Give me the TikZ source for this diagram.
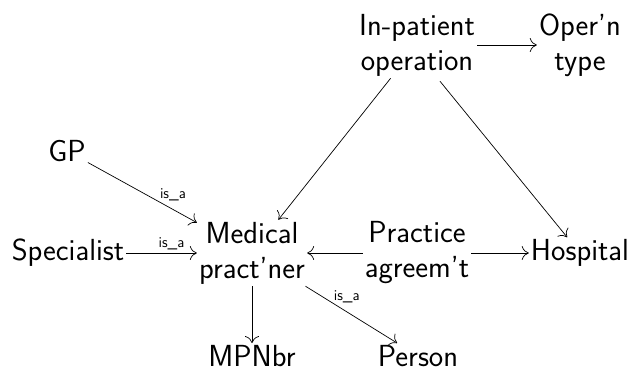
\documentclass[tikz,border=0pt]{standalone}
\usetikzlibrary{arrows.meta,calc}
\begin{document}
\begin{tikzpicture}[x=1pt,y=1pt,
  ent/.style={font=\fontsize{30.5}{35}\selectfont\sffamily, align=center, inner sep=2pt},
  lab/.style={font=\fontsize{15}{17}\selectfont\sffamily, inner sep=1pt},
  conn/.style={-{To[length=7pt,width=14pt]}, line width=0.7pt}]
\useasboundingbox (0,0) rectangle (630,-368);
\node[ent] (ip) at (417,-45) {In-patient\\operation};
\node[ent] (opt) at (580,-45) {Oper'n\\type};
\node[ent] (gp) at (67,-151) {GP};
\node[ent] (sp) at (68,-253) {Specialist};
\node[ent] (mp) at (252,-253) {Medical\\pract'ner};
\node[ent] (pa) at (417,-253) {Practice\\agreem't};
\node[ent] (ho) at (580,-253) {Hospital};
\node[ent] (mn) at (252,-356) {MPNbr};
\node[ent] (pe) at (418,-356) {Person};
\coordinate (ipb) at ($(ip.south)+(23,-3)$);
\draw[conn] (ip) -- (opt);
\draw[conn] (ip) -- (mp);
\draw[conn] (ipb) -- (ho);
\draw[conn] (gp) -- node[lab, pos=0.78, above=7pt] {is\_a} (mp);
\draw[conn] (sp) -- node[lab, pos=0.64, above=2pt] {is\_a} (mp);
\draw[conn] (pa) -- (mp);
\draw[conn] (pa) -- (ho);
\draw[conn] (mp) -- (mn);
\draw[conn] (mp) -- node[lab, pos=0.45, above=8pt] {is\_a} (pe);
\end{tikzpicture}
\end{document}
